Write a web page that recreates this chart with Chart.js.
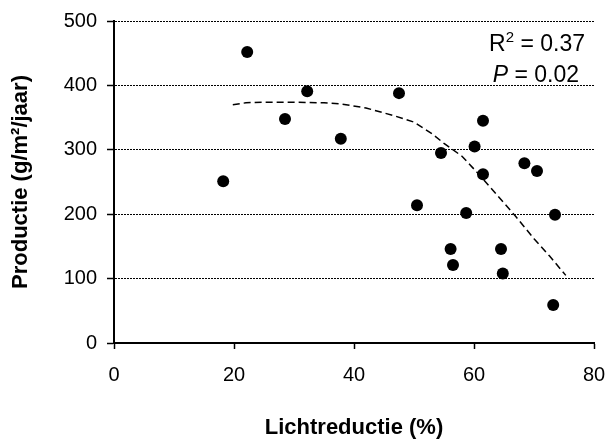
<!DOCTYPE html>
<html><head><meta charset="utf-8">
<script src="https://cdn.jsdelivr.net/npm/chart.js@4"></script>
<style>html,body{margin:0;padding:0;background:#fff}#wrap{width:608px;height:441px}</style>
</head><body><div id="wrap"><canvas id="c" width="608" height="441"></canvas></div>
<script>
const lightReduction = [18.2,22.2,28.5,32.2,37.8,47.5,50.5,54.5,56.1,56.5,58.7,60.1,61.5,61.5,64.5,64.8,68.4,70.5,73.5,73.2];
const production = [251,452,348,391,317,388,214,295,146,121,202,305,345,262,146,108,279,267,199,59];
const trendX = [19.8,22,25,30,35,38,42,47,50,53,55,58,61,64,67,70,72.6,75.3];
const trendY = [370,373,374,374,373,371,365,352,343,325,310,290,260,228,196,162,135,105];
const xTicks = [0,20,40,60,80];
const yTicks = [0,100,200,300,400,500];
const statR2 = '0.37';
const statP = '0.02';
const xTitle = 'Lichtreductie (%)';
const yTitle = 'Productie (g/m\u00B2/jaar)';

const FONT = "'Liberation Sans', Arial, sans-serif";
Chart.defaults.font.family = FONT;
Chart.defaults.color = '#000';

const statsPlugin = {
  id: 'stats',
  afterDraw(chart) {
    const {ctx, scales: {x, y}} = chart;
    ctx.save();
    ctx.fillStyle = '#000';
    ctx.textBaseline = 'alphabetic';
    let xr = x.getPixelForValue(78.5);
    let yb = y.getPixelForValue(453);
    ctx.font = "23px " + FONT;
    ctx.textAlign = 'right';
    const rest1 = ' = ' + statR2;
    ctx.fillText(rest1, xr, yb);
    xr -= ctx.measureText(rest1).width;
    ctx.font = "15px " + FONT;
    ctx.fillText('2', xr, yb - 9);
    xr -= ctx.measureText('2').width;
    ctx.font = "23px " + FONT;
    ctx.fillText('R', xr, yb);
    let xr2 = x.getPixelForValue(77.5);
    let yb2 = y.getPixelForValue(405);
    const rest2 = ' = ' + statP;
    ctx.fillText(rest2, xr2, yb2);
    xr2 -= ctx.measureText(rest2).width;
    ctx.font = "italic 23px " + FONT;
    ctx.fillText('P', xr2, yb2);
    ctx.restore();
  }
};

new Chart(document.getElementById('c'), {
  type: 'scatter',
  data: {
    datasets: [
      {
        label: 'trend',
        data: trendX.map((v, i) => ({x: v, y: trendY[i]})),
        showLine: true,
        borderColor: '#000',
        borderWidth: 1.5,
        borderDash: [7, 4],
        pointRadius: 0,
        fill: false,
        tension: 0
      },
      {
        label: 'data',
        data: lightReduction.map((v, i) => ({x: v, y: production[i]})),
        pointRadius: 6,
        pointBackgroundColor: '#000',
        pointBorderColor: '#000',
        borderWidth: 0
      }
    ]
  },
  options: {
    responsive: false,
    animation: false,
    layout: {padding: {top: 21, right: 14, left: 0, bottom: 0}},
    plugins: {legend: {display: false}, tooltip: {enabled: false}},
    scales: {
      x: {
        type: 'linear', min: 0, max: 80,
        afterBuildTicks: (s) => { s.ticks = xTicks.map(v => ({value: v})); },
        afterFit: (s) => { s.height = 98; s.paddingLeft = 0; s.paddingRight = 0; },
        border: {color: '#000', width: 2},
        grid: {drawOnChartArea: false, drawTicks: true, tickLength: 6, tickColor: '#000', tickWidth: 1.5},
        ticks: {font: {size: 20}, color: '#000', padding: 14, maxRotation: 0},
        title: {display: true, text: xTitle, font: {size: 22, weight: 'bold', lineHeight: 1}, color: '#000', padding: {top: 0, bottom: 2}}
      },
      y: {
        type: 'linear', min: 0, max: 500,
        afterBuildTicks: (s) => { s.ticks = yTicks.map(v => ({value: v})); },
        afterFit: (s) => { s.width = 114; s.paddingTop = 0; s.paddingBottom = 0; },
        border: {color: '#000', width: 2, dash: [2, 1]},
        grid: {drawOnChartArea: true, color: '#000', lineWidth: 1, drawTicks: true, tickLength: 7, tickColor: '#000', tickWidth: 1.5, tickBorderDash: []},
        ticks: {font: {size: 20}, color: '#000', padding: 10},
        title: {display: true, text: yTitle, font: {size: 22, weight: 'bold', lineHeight: 1}, color: '#000', padding: {top: 10, bottom: 0}}
      }
    }
  },
  plugins: [statsPlugin]
});
</script>
</body></html>
